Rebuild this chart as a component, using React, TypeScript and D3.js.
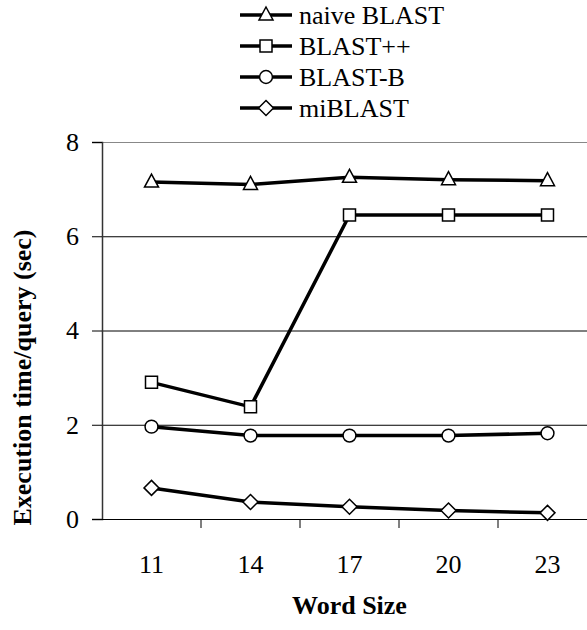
import { useEffect, useRef } from 'react';
import * as d3 from 'd3';

const wordSizes = ['11', '14', '17', '20', '23'];
const naiveBlast = [7.15, 7.1, 7.25, 7.2, 7.18];
const blastPP = [2.9, 2.38, 6.45, 6.45, 6.45];
const blastB = [1.96, 1.77, 1.77, 1.77, 1.82];
const miBlast = [0.66, 0.36, 0.26, 0.18, 0.13];
const yTicks = [0, 2, 4, 6, 8];

const seriesNames = ['naive BLAST', 'BLAST++', 'BLAST-B', 'miBLAST'];
const seriesValues = [naiveBlast, blastPP, blastB, miBlast];
const seriesMarkers = ['triangle', 'square', 'circle', 'diamond'];

const FONT = 'Liberation Serif, Tinos, Times New Roman, DejaVu Serif, serif';

function markerPath(kind: string) {
  if (kind === 'triangle') return 'M0,-8L7,5L-7,5Z';
  if (kind === 'square') return 'M-6,-6H6V6H-6Z';
  if (kind === 'diamond') return 'M0,-7.5L7.5,0L0,7.5L-7.5,0Z';
  return d3.symbol(d3.symbolCircle, 130)()!;
}

export default function App() {
  const svgRef = useRef<SVGSVGElement>(null);

  useEffect(() => {
    if (!svgRef.current) return;
    const width = 587;
    const height = 630;
    const left = 102;
    const right = 597;
    const top = 142;
    const bottom = 519;

    const svg = d3.select(svgRef.current);
    svg.selectAll('*').remove();
    svg.attr('width', width).attr('height', height);

    const x = d3.scaleBand().domain(wordSizes).range([left, right]);
    const y = d3.scaleLinear().domain([0, 8]).range([bottom, top]);
    const cx = (d: string) => x(d)! + x.bandwidth() / 2;

    // gridlines
    svg
      .append('g')
      .selectAll('line')
      .data(yTicks.filter((t) => t > 0))
      .enter()
      .append('line')
      .attr('x1', left)
      .attr('x2', right)
      .attr('y1', (d) => y(d) + 0.5)
      .attr('y2', (d) => y(d) + 0.5)
      .attr('stroke', (d) => (d === 8 ? '#888' : '#000'))
      .attr('stroke-width', 1);

    // y axis
    const yAxis = svg
      .append('g')
      .attr('transform', `translate(${left},0)`)
      .call(d3.axisLeft(y).tickValues(yTicks).tickSize(10).tickPadding(13));
    yAxis.attr('font-family', FONT).attr('font-size', 26);
    yAxis.select('.domain').attr('stroke', '#333').attr('stroke-width', 1.5);
    yAxis.selectAll('.tick line').attr('stroke', '#000');
    yAxis.selectAll('.tick text').attr('fill', '#000');

    // x axis
    const xAxis = svg
      .append('g')
      .attr('transform', `translate(0,${bottom})`)
      .call(d3.axisBottom(x).tickSize(0).tickPadding(36));
    xAxis.attr('font-family', FONT).attr('font-size', 26);
    xAxis.select('.domain').remove();
    xAxis.selectAll('.tick text').attr('fill', '#000');
    xAxis
      .append('line')
      .attr('x1', left - 10)
      .attr('x2', right)
      .attr('y1', 0.5)
      .attr('y2', 0.5)
      .attr('stroke', '#000');
    xAxis
      .selectAll('.sep')
      .data(wordSizes.slice(1))
      .enter()
      .append('line')
      .attr('x1', (d) => x(d)!)
      .attr('x2', (d) => x(d)!)
      .attr('y1', 0)
      .attr('y2', 9)
      .attr('stroke', '#000');

    // series
    const line = d3
      .line<number>()
      .x((_, i) => cx(wordSizes[i]))
      .y((d) => y(d));

    seriesValues.forEach((vals, s) => {
      svg
        .append('path')
        .datum(vals)
        .attr('d', line)
        .attr('fill', 'none')
        .attr('stroke', '#000')
        .attr('stroke-width', 3.5);
      svg
        .append('g')
        .selectAll('path')
        .data(vals)
        .enter()
        .append('path')
        .attr('transform', (d, i) => `translate(${cx(wordSizes[i])},${y(d)})`)
        .attr('d', markerPath(seriesMarkers[s]))
        .attr('fill', '#fff')
        .attr('stroke', '#000')
        .attr('stroke-width', 1.5);
    });

    // legend
    const legend = svg.append('g').attr('font-family', FONT).attr('font-size', 26);
    seriesNames.forEach((name, i) => {
      const ly = 15 + i * 31;
      legend
        .append('line')
        .attr('x1', 240)
        .attr('x2', 292)
        .attr('y1', ly)
        .attr('y2', ly)
        .attr('stroke', '#000')
        .attr('stroke-width', 3.5);
      legend
        .append('path')
        .attr('transform', `translate(266,${ly})`)
        .attr('d', markerPath(seriesMarkers[i]))
        .attr('fill', '#fff')
        .attr('stroke', '#000')
        .attr('stroke-width', 1.5);
      legend
        .append('text')
        .attr('x', 299)
        .attr('y', ly)
        .attr('dy', '0.35em')
        .text(name);
    });

    // axis titles
    svg
      .append('text')
      .attr('x', (left + right) / 2)
      .attr('y', 614)
      .attr('text-anchor', 'middle')
      .attr('font-family', FONT)
      .attr('font-weight', 'bold')
      .attr('font-size', 26)
      .text('Word Size');

    svg
      .append('text')
      .attr('transform', `translate(31,${(top + bottom) / 2 + 47}) rotate(-90)`)
      .attr('text-anchor', 'middle')
      .attr('font-family', FONT)
      .attr('font-weight', 'bold')
      .attr('font-size', 26)
      .text('Execution time/query (sec)');
  }, []);

  return (
    <div style={{ position: 'absolute', left: 0, top: 0, background: '#fff' }}>
      <svg ref={svgRef} style={{ display: 'block' }} />
    </div>
  );
}
